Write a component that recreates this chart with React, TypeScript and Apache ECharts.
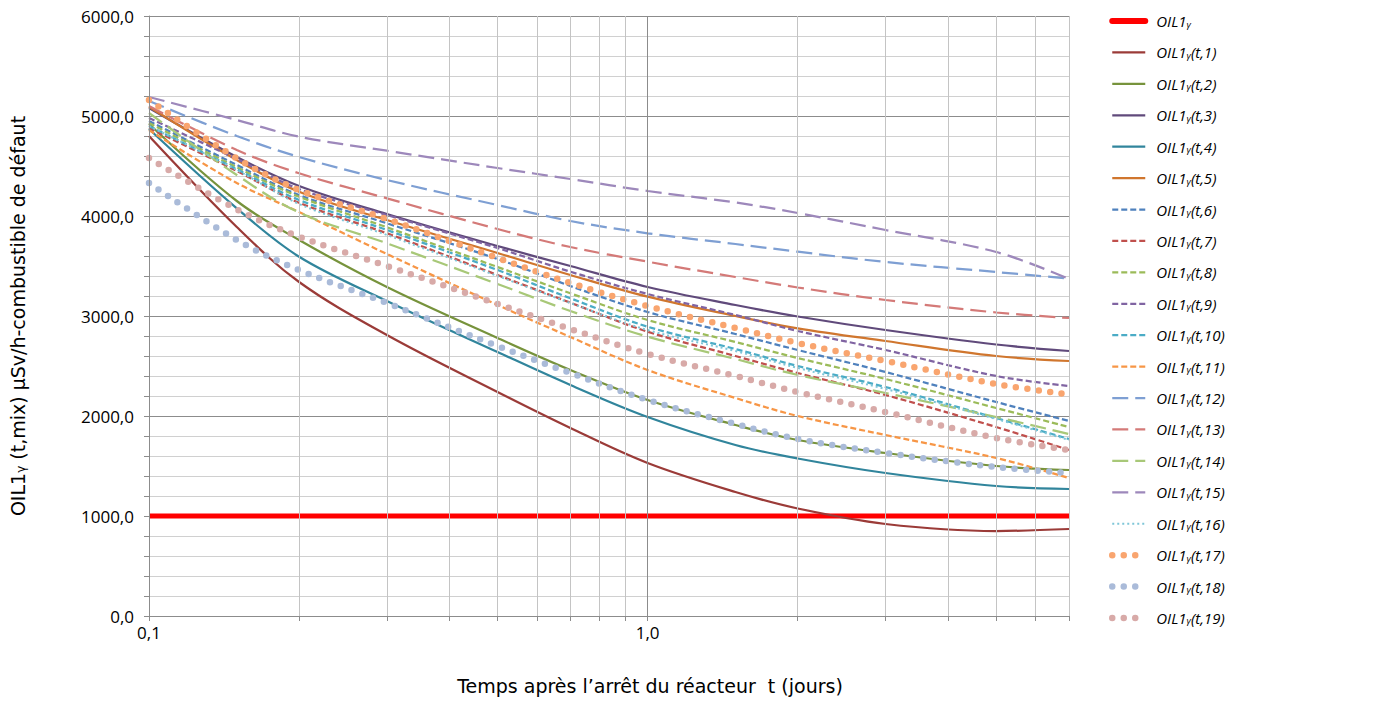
import React, { useEffect, useRef } from 'react';
import * as echarts from 'echarts';

// Time after reactor shutdown (days)
const tDays = [0.1, 0.15, 0.2, 0.3, 0.5, 0.7, 1, 1.5, 2, 3, 5, 7];
const limitT = [0.1, 7];
const limitVal = [1000, 1000];

const s1 = [4800, 3890, 3340, 2810, 2240, 1880, 1530, 1240, 1075, 920, 850, 870];
const s2 = [4920, 4150, 3760, 3290, 2780, 2460, 2160, 1910, 1760, 1630, 1500, 1460];
const s3 = [5080, 4590, 4300, 4020, 3700, 3500, 3290, 3110, 2995, 2860, 2715, 2650];
const s4 = [4870, 4077, 3593, 3150, 2640, 2310, 1990, 1710, 1575, 1430, 1300, 1270];
const s5 = [5093, 4560, 4243, 3960, 3630, 3410, 3193, 3000, 2877, 2750, 2600, 2550];
const s6 = [4950, 4510, 4210, 3927, 3570, 3300, 3040, 2820, 2660, 2440, 2140, 1950];
const s7 = [4880, 4450, 4133, 3827, 3410, 3133, 2843, 2600, 2430, 2210, 1890, 1660];
const s8 = [4930, 4487, 4193, 3887, 3490, 3227, 2960, 2740, 2580, 2370, 2080, 1890];
const s9 = [4980, 4570, 4270, 4010, 3680, 3443, 3220, 3010, 2850, 2660, 2400, 2300];
const s10 = [4900, 4467, 4160, 3860, 3460, 3177, 2893, 2670, 2500, 2290, 1980, 1770];
const s11 = [4860, 4330, 4040, 3620, 3110, 2790, 2460, 2180, 2000, 1810, 1580, 1380];
const s12 = [5150, 4800, 4590, 4360, 4110, 3950, 3827, 3720, 3643, 3540, 3440, 3375];
const s13 = [5100, 4660, 4427, 4177, 3870, 3690, 3543, 3390, 3285, 3160, 3035, 2980];
const s14 = [5030, 4410, 4035, 3727, 3320, 3050, 2793, 2570, 2410, 2230, 1990, 1820];
const s15 = [5190, 4960, 4793, 4653, 4480, 4370, 4250, 4135, 4030, 3860, 3640, 3370];
const s16 = [4900, 4460, 4120, 3810, 3400, 3130, 2860, 2650, 2480, 2270, 1970, 1760];
const s17 = [5160, 4577, 4260, 3970, 3580, 3330, 3100, 2880, 2730, 2550, 2320, 2217];
const s18 = [4330, 3760, 3460, 3130, 2700, 2430, 2160, 1920, 1770, 1630, 1490, 1430];
const s19 = [4580, 4067, 3793, 3500, 3120, 2870, 2620, 2400, 2240, 2040, 1780, 1660];

const curves = [s1, s2, s3, s4, s5, s6, s7, s8, s9, s10, s11, s12, s13, s14, s15, s16, s17, s18, s19];
const curveLabels = ['1', '2', '3', '4', '5', '6', '7', '8', '9', '10', '11', '12', '13', '14', '15', '16', '17', '18', '19'];

const xLabelValues = [0.1, 1];
const xGridValues = [0.1, 0.2, 0.3, 0.4, 0.5, 0.6, 0.7, 0.8, 0.9, 1, 2, 3, 4, 5, 6, 7];
const xMajorValues = [0.1, 1];

const yAxisTitle = ['OIL1', 'γ', ' (t,mix) µSv/h-combustible de défaut'];
const xAxisTitle = 'Temps après l’arrêt du réacteur  t (jours)';

// styles
const SHORT = [6, 3];
const LONG = [16, 7];
const SMALLDOT = [2, 3];
const BIGDOT = [0, 11.5];
const curveStyles: any[] = [
  { color: '#9B3B38', type: 'solid', width: 2.25 },
  { color: '#77933C', type: 'solid', width: 2.25 },
  { color: '#604A7B', type: 'solid', width: 2.25 },
  { color: '#31859C', type: 'solid', width: 2.25 },
  { color: '#D0762E', type: 'solid', width: 2.25 },
  { color: '#4F81BD', type: SHORT, width: 2.25 },
  { color: '#C0504D', type: SHORT, width: 2.25 },
  { color: '#9BBB59', type: SHORT, width: 2.25 },
  { color: '#8064A2', type: SHORT, width: 2.25 },
  { color: '#4BACC6', type: SHORT, width: 2.25 },
  { color: '#F79646', type: SHORT, width: 2.25 },
  { color: '#7E9FD3', type: LONG, width: 2.25 },
  { color: '#D47A78', type: LONG, width: 2.25 },
  { color: '#A8C878', type: LONG, width: 2.25 },
  { color: '#9D88BB', type: LONG, width: 2.25 },
  { color: '#7FC6D8', type: SMALLDOT, width: 2 },
  { color: '#F9A56F', type: BIGDOT, width: 6.5, cap: 'round' },
  { color: '#AABBD9', type: BIGDOT, width: 6.5, cap: 'round' },
  { color: '#D8AAA8', type: BIGDOT, width: 6.5, cap: 'round' },
];

const FONT = '"Open Sans", Lato, sans-serif';
const TITLE_FONT = '"DejaVu Sans", "Open Sans", sans-serif';
const fmt = (v: number) => v.toFixed(1).replace('.', ',');

export default function App() {
  const ref = useRef<HTMLDivElement>(null);
  useEffect(() => {
    if (!ref.current) return;
    const chart = echarts.init(ref.current, null, { renderer: 'svg' });

    const names = ['OIL1γ', ...curveLabels.map((l) => `OIL1γ(t,${l})`)];

    const series: any[] = [
      {
        name: '__grid',
        type: 'line',
        data: [[0.1, 0]],
        symbol: 'none',
        silent: true,
        lineStyle: { opacity: 0 },
        z: 1,
        markLine: {
          silent: true,
          symbol: ['none', 'none'],
          label: { show: false },
          emphasis: { disabled: true },
          lineStyle: { type: 'solid', width: 1 },
          data: xGridValues.map((v) => ({
            xAxis: v,
            lineStyle: { color: xMajorValues.includes(v) ? '#8C8C8C' : '#C4C4C4', type: 'solid', width: 1 },
          })),
        },
      },
      {
        name: names[0],
        type: 'line',
        data: limitT.map((t, i) => [t, limitVal[i]]),
        symbol: 'none',
        lineStyle: { color: '#FF0000', width: 5 },
        itemStyle: { color: '#FF0000' },
        z: 2,
      },
      ...curves.map((c, i) => ({
        name: names[i + 1],
        type: 'line',
        data: tDays.map((t, j) => [t, c[j]]),
        symbol: 'none',
        smooth: 0.35,
        lineStyle: {
          color: curveStyles[i].color,
          width: curveStyles[i].width,
          type: curveStyles[i].type,
          cap: curveStyles[i].cap || 'butt',
        },
        itemStyle: { color: curveStyles[i].color },
        z: 3,
      })),
    ];

    const legendData = names.map((n, i) => {
      if (i === 0) return { name: n, lineStyle: { width: 6, cap: 'round' } };
      const st = curveStyles[i - 1];
      return { name: n, lineStyle: { width: st.width, type: st.type, cap: st.cap || 'butt' } };
    });

    chart.setOption({
      animation: false,
      backgroundColor: '#FFFFFF',
      textStyle: { fontFamily: FONT },
      grid: { left: 147, right: 331, top: 16, bottom: 86, containLabel: false },
      legend: {
        orient: 'vertical',
        left: 1104,
        top: 8,
        itemWidth: 33,
        itemHeight: 14,
        itemGap: 15.42,
        data: legendData,
        itemStyle: { opacity: 0, color: 'rgba(0,0,0,0)', borderWidth: 0 },
        formatter: (name: string) => {
          const parts = name.split('γ');
          return `{a|${parts[0]}}{g|γ}{a|${parts[1] || ''}}`;
        },
        textStyle: {
          padding: [0, 0, 0, 6],
          rich: {
            a: { fontFamily: FONT, fontStyle: 'italic', fontSize: 15, color: '#000', lineHeight: 14 },
            g: { fontFamily: FONT, fontStyle: 'italic', fontSize: 9.5, color: '#000', lineHeight: 14, padding: [6, 0, 0, 0] },
          },
        },
      },
      graphic: [
        {
          type: 'text',
          x: 650,
          y: 686,
          style: { text: xAxisTitle, font: `19px ${TITLE_FONT}`, fill: '#000', align: 'center', verticalAlign: 'middle' },
        },
      ],
      xAxis: {
        type: 'log',
        logBase: 10,
        min: 0.1,
        max: 7,
        axisLine: { show: true, lineStyle: { color: '#8C8C8C', width: 1 } },
        axisTick: { show: true, length: 5, customValues: xGridValues, lineStyle: { color: '#8C8C8C' } },
        axisLabel: {
          customValues: xLabelValues,
          formatter: (v: number) => fmt(v),
          fontSize: 17,
          color: '#000',
          margin: 8,
          fontFamily: FONT,
        },
        splitLine: { show: false },
      },
      yAxis: {
        type: 'value',
        min: 0,
        max: 6000,
        interval: 1000,
        name: `{a|${yAxisTitle[0]}}{g|${yAxisTitle[1]}}{a|${yAxisTitle[2]}}`,
        nameLocation: 'middle',
        nameRotate: 90,
        nameGap: 122,
        nameTextStyle: {
          rich: {
            a: { fontFamily: TITLE_FONT, fontSize: 19, color: '#000' },
            g: { fontFamily: TITLE_FONT, fontSize: 12, color: '#000', padding: [7, 0, 0, 0] },
          },
        },
        axisLine: { show: true, lineStyle: { color: '#8C8C8C', width: 1 } },
        axisTick: { show: true, length: 5, lineStyle: { color: '#8C8C8C' } },
        minorTick: { show: true, splitNumber: 5, length: 5, lineStyle: { color: '#8C8C8C' } },
        axisLabel: { formatter: (v: number) => fmt(v), fontSize: 17, color: '#000', margin: 15, fontFamily: FONT },
        splitLine: { show: true, lineStyle: { color: '#8C8C8C', width: 1 } },
        minorSplitLine: { show: true, lineStyle: { color: '#D0D0D0', width: 1 } },
      },
      series,
    });
    return () => chart.dispose();
  }, []);
  return <div ref={ref} style={{ width: 1400, height: 702, position: 'absolute', left: 0, top: 0 }} />;
}
